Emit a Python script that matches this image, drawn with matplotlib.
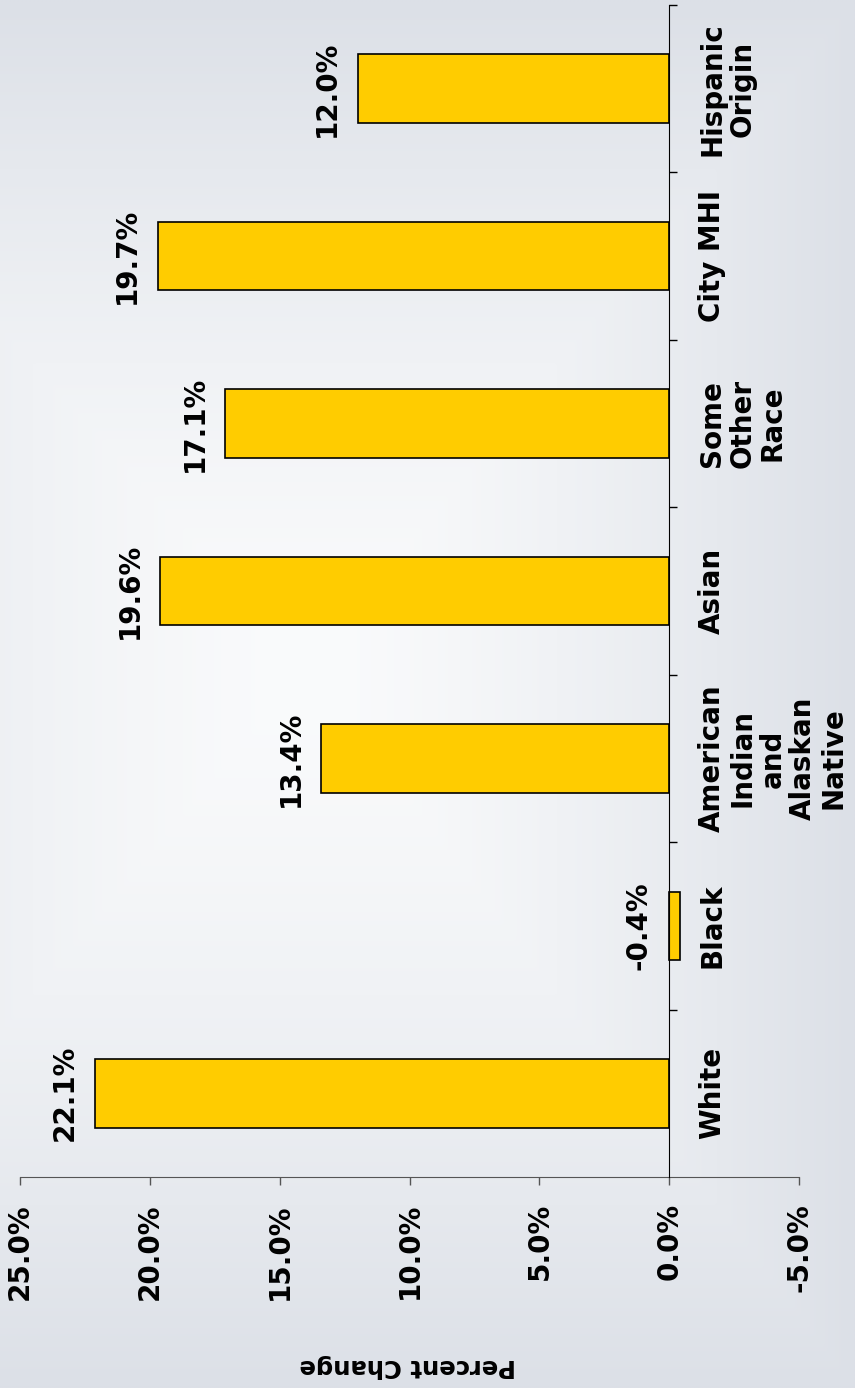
import numpy as np
import matplotlib
matplotlib.use('Agg')
import matplotlib.pyplot as plt
from matplotlib.ticker import FixedLocator

# data
categories = ['White', 'Black', 'American\nIndian\nand\nAlaskan\nNative', 'Asian',
              'Some\nOther\nRace', 'City MHI', 'Hispanic\nOrigin']
values = [22.1, -0.4, 13.4, 19.6, 17.1, 19.7, 12.0]
value_ticks = [25, 20, 15, 10, 5, 0, -5]

W, H = 855, 1388
fig = plt.figure(figsize=(W / 100, H / 100), dpi=100)

# soft rectangular background gradient, lighter toward the left
bg = fig.add_axes([0, 0, 1, 1])
bg.axis('off')
yy, xx = np.mgrid[0:1:347j, 0:1:214j]
cx, cy = 0.36, 0.48
dx = np.where(xx < cx, (cx - xx) / (cx + 0.35), (xx - cx) / (1 - cx))
dy = np.where(yy < cy, (cy - yy) / cy, (yy - cy) / (1 - cy))
t = np.maximum(dx, dy) ** 1.4
inner = np.array([250, 251, 252]) / 255
outer = np.array([220, 224, 231]) / 255
img = inner + (outer - inner) * t[..., None]
bg.imshow(img, aspect='auto', extent=[0, 1, 0, 1], origin='upper', interpolation='bilinear')
bg.set_xlim(0, 1)
bg.set_ylim(0, 1)

# main chart (drawn sideways)
ax = fig.add_axes([20 / W, 1 - 1177 / H, 779 / W, 1172 / H])
ax.set_facecolor('none')
pos = np.arange(len(categories))
ax.barh(pos, values, height=0.41, color='#FFCC00', edgecolor='black', linewidth=1.2, zorder=3)
ax.set_xlim(25, -5)
ax.set_ylim(-0.5, len(categories) - 0.5)

ax.spines['top'].set_visible(False)
ax.spines['left'].set_visible(False)
ax.spines['right'].set_position(('data', 0))
ax.spines['right'].set_color('black')
ax.spines['right'].set_zorder(4)
ax.spines['bottom'].set_color('#555555')

# category axis
ax.yaxis.tick_right()
ax.set_yticks(pos)
ax.set_yticklabels(categories, rotation=90, fontsize=20, fontweight='bold',
                   ha='left', va='center', multialignment='center', linespacing=1.1)
ax.yaxis.set_minor_locator(FixedLocator(list(pos + 0.5)))
ax.tick_params(axis='y', which='major', length=0, pad=21)
ax.tick_params(axis='y', which='minor', length=5.8, width=1, color='black', direction='out')

# value axis
ax.set_xticks(value_ticks)
ax.set_xticklabels([f'{v:.1f}%' for v in value_ticks], rotation=90, fontsize=20,
                   fontweight='bold', ha='center', va='top')
ax.tick_params(axis='x', length=5.8, width=1, color='#555555', pad=13)

# bar labels
for p, v in zip(pos, values):
    ax.annotate(f'{v:.1f}%', xy=(max(v, 0), p), xytext=(-12, 0), textcoords='offset points',
                rotation=90, ha='right', va='center', fontsize=20, fontweight='bold')

fig.text(408 / W, 1 - 1366 / H, 'Percent Change', rotation=180, ha='center', va='center',
         fontsize=17.5, fontweight='bold')

fig.savefig('out.png', dpi=100)
